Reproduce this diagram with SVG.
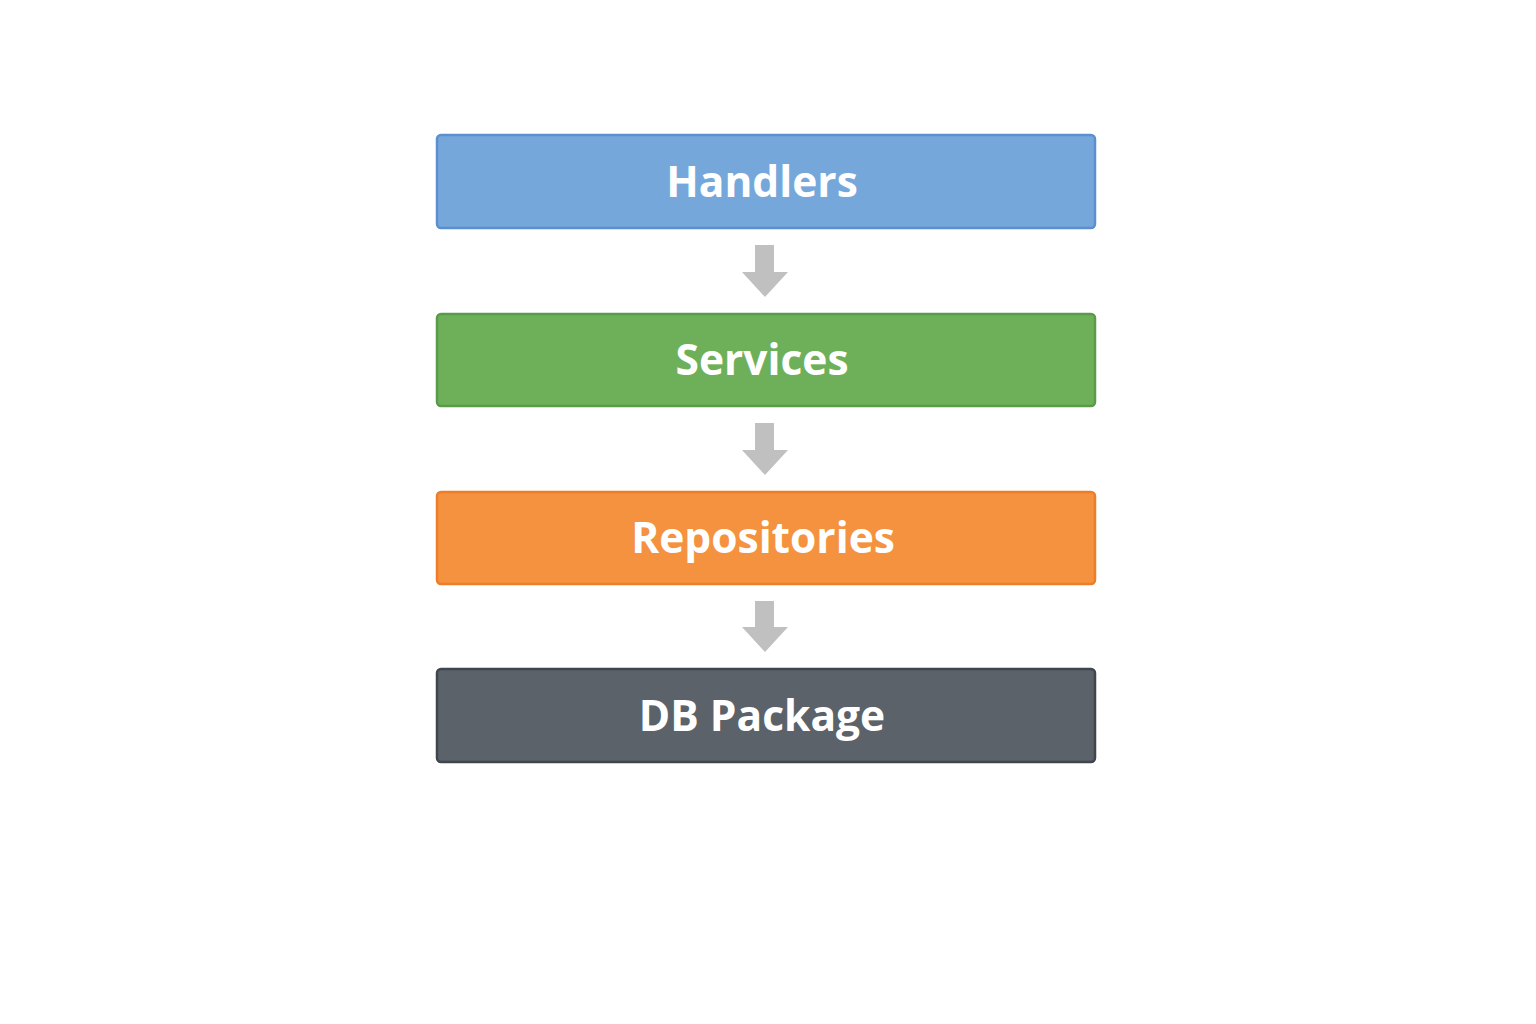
<svg xmlns="http://www.w3.org/2000/svg" width="1536" height="1024" viewBox="0 0 1536 1024">
<style>
.box{stroke-width:2.5}
.lbl{font-family:"Open Sans","Noto Sans","DejaVu Sans",sans-serif;font-weight:700;font-size:42.5px;fill:#ffffff;text-anchor:middle}
.arr{fill:#c0c0c0}
</style>
<rect width="1536" height="1024" fill="#ffffff"/>
<g id="handlers">
<rect class="box" x="437" y="135" width="658" height="93" rx="4" fill="#76a7db" stroke="#5b8fd0"/>
<text class="lbl" x="762" y="197">Handlers</text>
</g>
<g id="services">
<rect class="box" x="437" y="314" width="658" height="92" rx="4" fill="#6eb05a" stroke="#5a9a48"/>
<text class="lbl" x="762" y="375">Services</text>
</g>
<g id="repositories">
<rect class="box" x="437" y="492" width="658" height="92" rx="4" fill="#f4923f" stroke="#ee7d2a"/>
<text class="lbl" x="763" y="553">Repositories</text>
</g>
<g id="db-package">
<rect class="box" x="437" y="669" width="658" height="93" rx="4" fill="#5b626a" stroke="#40464d"/>
<text class="lbl" x="762" y="731">DB Package</text>
</g>
<g id="connectors">
<polygon class="arr" points="755,245 774,245 774,272 788,272 765,297 742,272 755,272"/>
<polygon class="arr" points="755,423 774,423 774,450 788,450 765,475 742,450 755,450"/>
<polygon class="arr" points="755,601 774,601 774,627 788,627 765,652 742,627 755,627"/>
</g>
</svg>
